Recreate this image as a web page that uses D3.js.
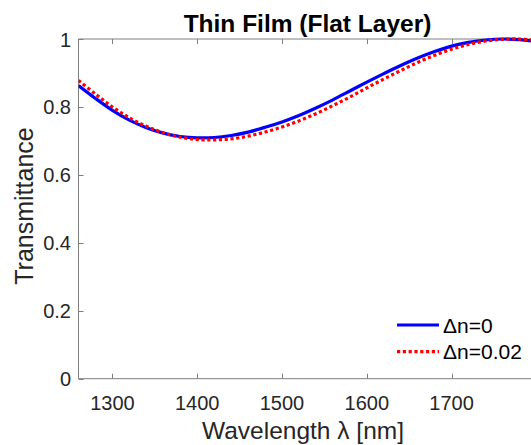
<!DOCTYPE html>
<html><head><meta charset="utf-8">
<script src="https://cdn.jsdelivr.net/npm/d3@7/dist/d3.min.js"></script>
<style>
html,body{margin:0;padding:0;background:#fff;overflow:hidden;}
svg{display:block;font-family:"Liberation Sans",Arial,Helvetica,sans-serif;}
</style></head><body>
<script>
const wavelengths = [1260,1280,1300,1320,1340,1360,1380,1400,1420,1440,1460,1480,1500,1520,1540,1560,1580,1600,1620,1640,1660,1680,1700,1720,1740,1760,1780,1800];
const tDn0 = [0.863,0.825,0.790,0.761,0.739,0.723,0.713,0.709,0.710,0.716,0.726,0.740,0.756,0.775,0.797,0.821,0.847,0.873,0.898,0.922,0.944,0.963,0.979,0.990,0.997,1.000,0.998,0.992];
const tDn002 = [0.878,0.838,0.800,0.768,0.743,0.724,0.711,0.704,0.703,0.706,0.714,0.726,0.741,0.759,0.780,0.804,0.829,0.856,0.882,0.907,0.931,0.952,0.970,0.984,0.994,0.999,1.000,0.996];
const xTicks = [1300,1400,1500,1600,1700];
const yTicks = [0,0.2,0.4,0.6,0.8,1];
const seriesNames = ["\u0394n=0","\u0394n=0.02"];
const titleText = "Thin Film (Flat Layer)";
const xLabel = "Wavelength \u03bb [nm]";
const yLabel = "Transmittance";

const W = 531, H = 445;
const L = 78.5, T = 39, B = 378.7;
const x = d3.scaleLinear().domain([1260, 1800]).range([L, 536.4]);
const y = d3.scaleLinear().domain([0, 1]).range([B, T]);
const R = x(1800);

const svg = d3.select("body").append("svg").attr("width", W).attr("height", H);
svg.append("defs").append("clipPath").attr("id","clip")
  .append("rect").attr("x", L).attr("y", T - 3).attr("width", R - L).attr("height", B - T + 3);

const axisColor = "#262626";
const lineColor = "#7f7f7f";

svg.append("line").attr("x1", L).attr("x2", R).attr("y1", B).attr("y2", B).attr("stroke", lineColor).attr("stroke-width", 1);
svg.append("line").attr("x1", L).attr("x2", R).attr("y1", T).attr("y2", T).attr("stroke", lineColor).attr("stroke-width", 1);
svg.append("line").attr("x1", L).attr("x2", L).attr("y1", T).attr("y2", B).attr("stroke", lineColor).attr("stroke-width", 1);

xTicks.forEach(v => {
  const px = Math.round(x(v)) + 0.5;
  svg.append("line").attr("x1", px).attr("x2", px).attr("y1", B).attr("y2", B - 5).attr("stroke", lineColor);
  svg.append("line").attr("x1", px).attr("x2", px).attr("y1", T).attr("y2", T + 5).attr("stroke", lineColor);
  svg.append("text").attr("x", x(v)).attr("y", 410).attr("text-anchor", "middle")
    .attr("font-size", 20).attr("fill", axisColor).text(v);
});
yTicks.forEach(v => {
  const py = Math.round(y(v)) + 0.5;
  svg.append("line").attr("x1", L).attr("x2", L + 5).attr("y1", py).attr("y2", py).attr("stroke", lineColor);
  svg.append("text").attr("x", 71).attr("y", y(v) + 7.5).attr("text-anchor", "end")
    .attr("font-size", 20).attr("fill", axisColor).text(v);
});

svg.append("text").attr("x", 307.5).attr("y", 31.5).attr("text-anchor", "middle")
  .attr("font-size", 24.5).attr("font-weight", "bold").attr("fill", "#000").text(titleText);
svg.append("text").attr("x", 303).attr("y", 439).attr("text-anchor", "middle")
  .attr("font-size", 24.5).attr("fill", axisColor).text(xLabel);
svg.append("text").attr("transform", "translate(33,206) rotate(-90)")
  .attr("text-anchor", "middle").attr("font-size", 25).attr("fill", axisColor).text(yLabel);

const line = d3.line().x(d => x(d[0])).y(d => y(d[1])).curve(d3.curveCatmullRom.alpha(0.5));
const g = svg.append("g").attr("clip-path", "url(#clip)");
g.append("path").datum(wavelengths.map((w, i) => [w, tDn0[i]]))
  .attr("d", line).attr("fill", "none").attr("stroke", "#0000ff").attr("stroke-width", 3.2);
g.append("path").datum(wavelengths.map((w, i) => [w, tDn002[i]]))
  .attr("d", line).attr("fill", "none").attr("stroke", "#ff0000").attr("stroke-width", 3.2)
  .attr("stroke-dasharray", "3.2,2.6");

const leg = [{c:"#0000ff", dash:null, yy:325}, {c:"#ff0000", dash:"3.2,2.6", yy:351.7}];
leg.forEach((l, i) => {
  const ln = svg.append("line").attr("x1", 397).attr("x2", 439).attr("y1", l.yy).attr("y2", l.yy)
    .attr("stroke", l.c).attr("stroke-width", 3.2);
  if (l.dash) ln.attr("stroke-dasharray", l.dash);
  svg.append("text").attr("x", 443).attr("y", l.yy + 7.5).attr("font-size", 21)
    .attr("fill", "#000").text(seriesNames[i]);
});
</script>
</body></html>
